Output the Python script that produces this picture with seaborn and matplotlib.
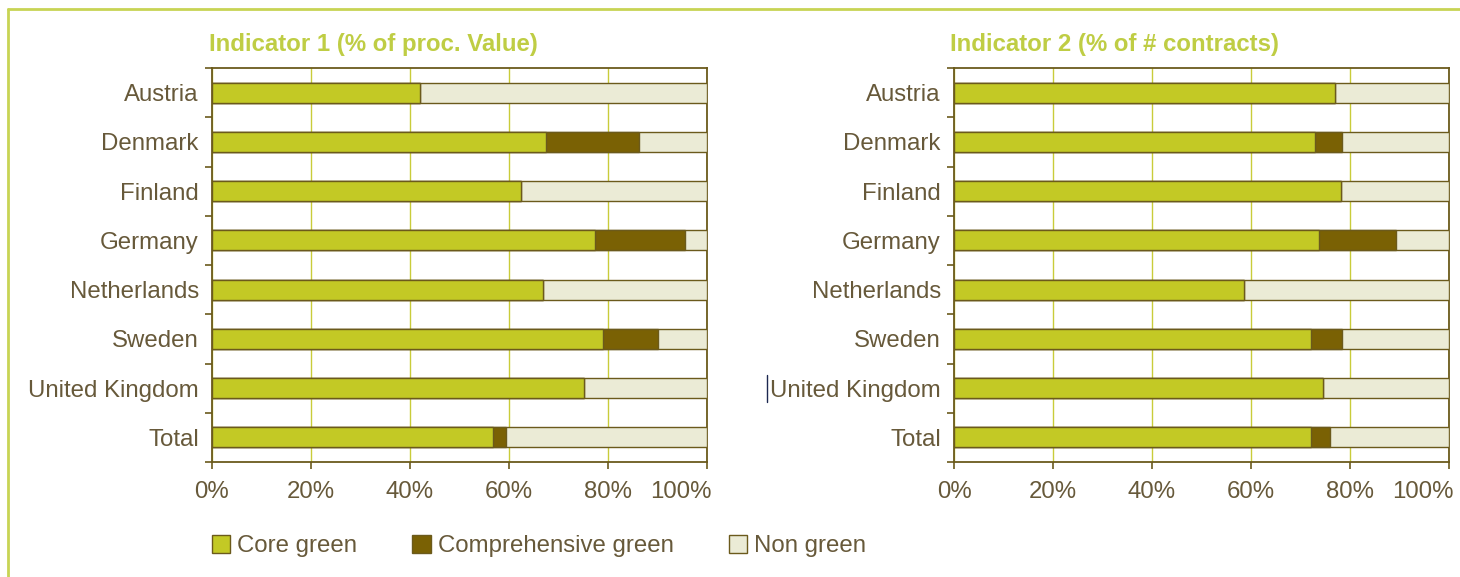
import matplotlib
matplotlib.use("Agg")
import matplotlib.pyplot as plt
from matplotlib.lines import Line2D
from matplotlib.patches import Patch
import matplotlib.transforms as mtransforms
import seaborn as sns
import pandas as pd
import numpy as np

countries = ["Austria", "Denmark", "Finland", "Germany", "Netherlands",
             "Sweden", "United Kingdom", "Total"]

# Indicator 1 (% of procurement value)
ind1_core = [42, 67.4, 62.4, 77.3, 66.9, 78.9, 75.1, 56.8]
ind1_comp = [0, 18.9, 0, 18.3, 0, 11.3, 0, 2.6]
ind1_non = [58, 13.7, 37.6, 4.4, 33.1, 9.8, 24.9, 40.6]

# Indicator 2 (% of number of contracts)
ind2_core = [76.9, 72.9, 78.1, 73.7, 58.5, 72.2, 74.5, 72.2]
ind2_comp = [0, 5.5, 0, 15.6, 0, 6.2, 0, 3.8]
ind2_non = [23.1, 21.6, 21.9, 10.7, 41.5, 21.6, 25.5, 24.0]

titles = ["Indicator 1 (% of proc. Value)", "Indicator 2 (% of # contracts)"]
series_names = ["Core green", "Comprehensive green", "Non green"]
xticks = [0, 20, 40, 60, 80, 100]
xticklabels = ["0%", "20%", "40%", "60%", "80%", "100%"]

C_CORE = "#c3c925"
C_COMP = "#7a6104"
C_NON = "#ebebd6"
C_EDGE = "#6b5a1c"
C_GRID = "#c9cc3a"
C_TEXT = "#67593a"
C_TITLE = "#bfcd44"
C_FRAME = "#c8d454"

FS = 17.3

sns.set_theme(style="white")
plt.rcParams["font.family"] = ["Liberation Sans", "DejaVu Sans"]

W, H = 1460, 577
fig = plt.figure(figsize=(W / 100, H / 100), dpi=100)
fig.patch.set_facecolor("white")

ax_bottom, ax_top = 462, 68
ax_w = 495
lefts = [212, 954]
title_x = [209, 950]

datasets = [(ind1_core, ind1_comp, ind1_non), (ind2_core, ind2_comp, ind2_non)]

for i, (core, comp, non) in enumerate(datasets):
    ax = fig.add_axes([lefts[i] / W, (H - ax_bottom) / H, ax_w / W,
                       (ax_bottom - ax_top) / H])
    df = pd.DataFrame({"country": countries,
                       "core": core, "comp": comp, "non": non})
    df["c1"] = df["core"]
    df["c2"] = df["core"] + df["comp"]
    df["c3"] = df["core"] + df["comp"] + df["non"]
    ax.set_axisbelow(True)
    for col, color in [("c3", C_NON), ("c2", C_COMP), ("c1", C_CORE)]:
        sns.barplot(data=df, x=col, y="country", orient="h", color=color,
                    edgecolor=C_EDGE, linewidth=1.0, width=0.41,
                    saturation=1, ax=ax, zorder=3)
    ax.set_xlim(0, 100)
    ax.set_ylim(7.5, -0.5)
    ax.set_xlabel("")
    ax.set_ylabel("")
    ax.set_xticks(xticks)
    ax.set_xticklabels(xticklabels)
    ax.grid(axis="x", color=C_GRID, linewidth=1.0, zorder=0)
    ax.grid(axis="y", visible=False)
    ax.set_yticks(range(len(countries)))
    ax.set_yticklabels(countries)
    ax.set_yticks(np.arange(-0.5, len(countries), 1.0), minor=True)
    ax.tick_params(axis="y", which="major", length=0, pad=9.5,
                   labelsize=FS, labelcolor=C_TEXT)
    ax.tick_params(axis="y", which="minor", length=5, width=1.2,
                   color=C_EDGE, direction="out", left=True)
    ax.tick_params(axis="x", which="major", length=5, width=1.2,
                   color=C_EDGE, direction="out", bottom=True, pad=8.5,
                   labelsize=FS, labelcolor=C_TEXT)
    # last tick label ("100%") sits right-aligned just past the axis end
    last = ax.get_xticklabels()[-1]
    last.set_ha("right")
    last.set_transform(last.get_transform() +
                       mtransforms.ScaledTranslation(5 / 100, 0, fig.dpi_scale_trans))
    for s in ax.spines.values():
        s.set_color(C_EDGE)
        s.set_linewidth(1.3)
        s.set_visible(True)
    fig.text(title_x[i] / W, 1 - 45 / H, titles[i], color=C_TITLE,
             fontsize=17.3, fontweight="bold", ha="left", va="center")

handles = [Patch(facecolor=c, edgecolor=C_EDGE, linewidth=1.0)
           for c in (C_CORE, C_COMP, C_NON)]
leg = fig.legend(handles, series_names, loc="center left",
                 bbox_to_anchor=(212 / W, 1 - 546 / H), ncol=3, frameon=False,
                 fontsize=FS, handlelength=0.75, handleheight=0.75,
                 handletextpad=0.3, columnspacing=2.3, borderpad=0,
                 borderaxespad=0, labelcolor=C_TEXT)

# outer frame (left and top edges visible)
fig.add_artist(Line2D([8 / W, 8 / W], [0, 1 - 9 / H], transform=fig.transFigure,
                      color=C_FRAME, linewidth=2.0))
fig.add_artist(Line2D([8 / W, 1], [1 - 9 / H, 1 - 9 / H], transform=fig.transFigure,
                      color=C_FRAME, linewidth=2.0))
# small text-cursor mark visible in the source image
fig.add_artist(Line2D([767 / W, 767 / W], [1 - 402 / H, 1 - 375 / H],
                      transform=fig.transFigure, color="#1c2850", linewidth=1.0))

fig.savefig("out.png", dpi=100, facecolor="white")
